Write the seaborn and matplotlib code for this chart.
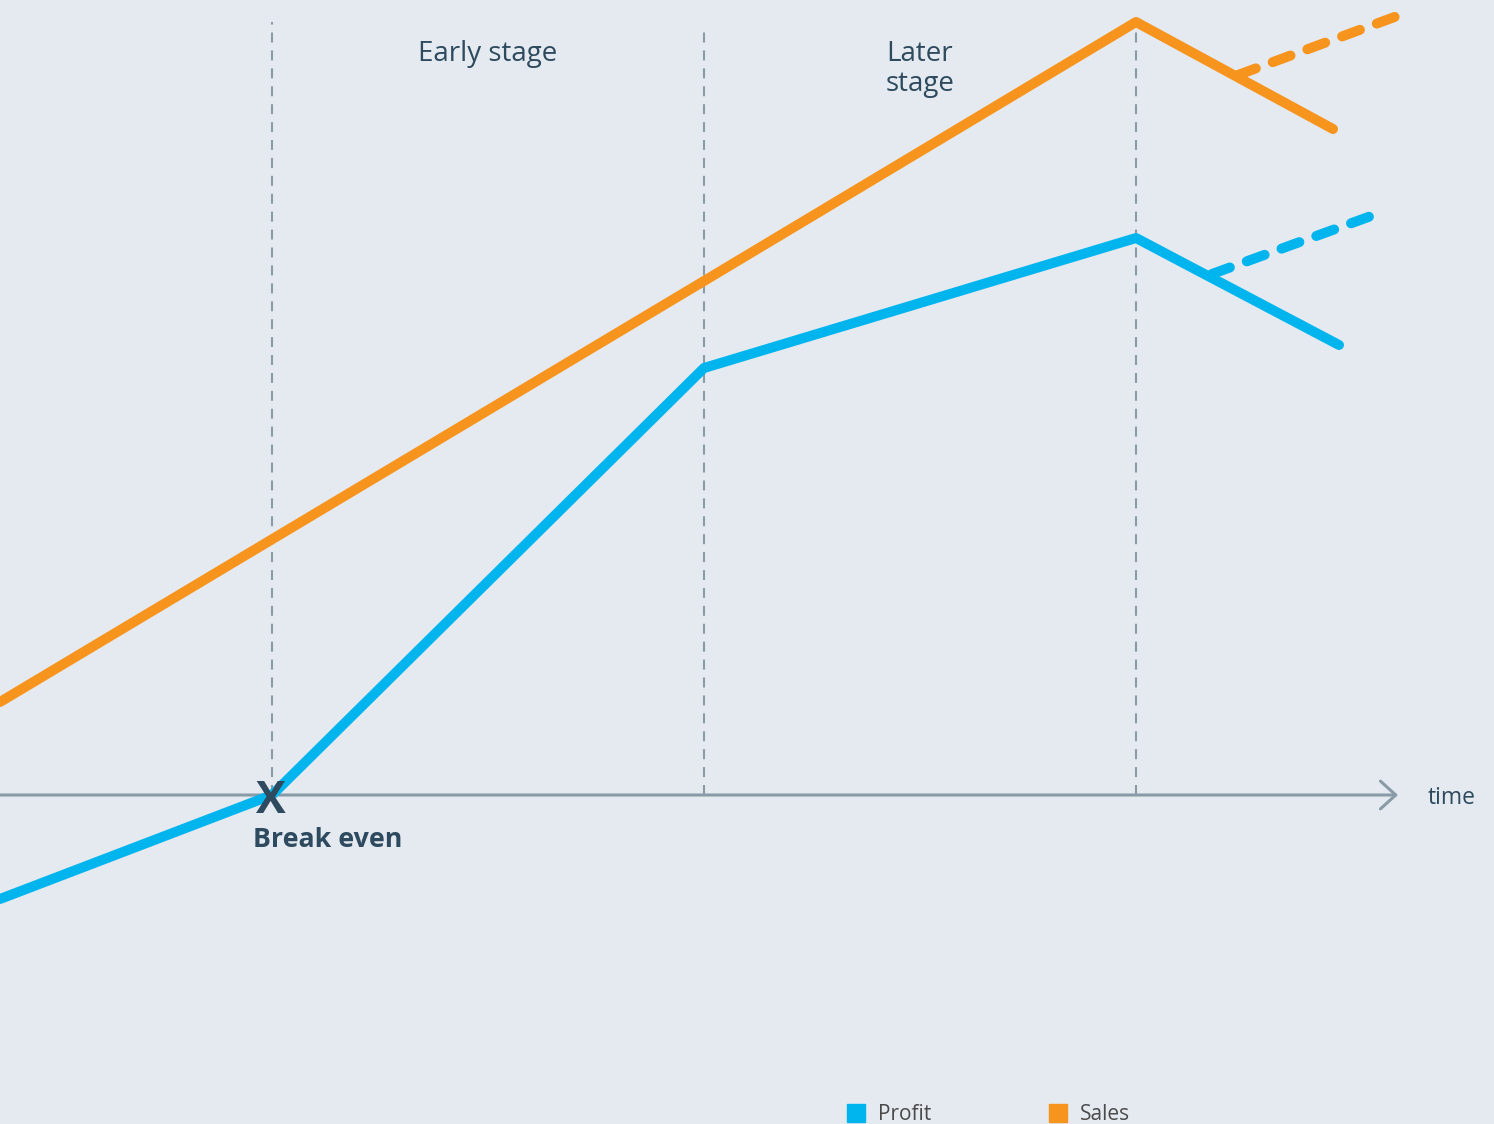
import matplotlib
matplotlib.use("Agg")
import matplotlib.pyplot as plt
from matplotlib.lines import Line2D
import seaborn as sns
import pandas as pd

# ---- data (time units, value units; 0 = break-even level) ----
sales_x = [0.0, 7.04, 11.36, 13.33]
sales_y = [0.93, 5.14, 7.73, 6.66]
profit_x = [0.0, 2.72, 7.04, 11.36, 13.39]
profit_y = [-1.04, 0.0, 4.27, 5.57, 4.50]
sales_proj_x = [12.38, 14.08]
sales_proj_y = [7.20, 7.83]
profit_proj_x = [12.12, 13.82]
profit_proj_y = [5.21, 5.83]
stage_x = [2.72, 7.04, 11.36]
stage_top = [7.73, 7.67, 7.73]
break_even = (2.71, 0.0)
legend_labels = ["Profit", "Sales"]

BG = "#E5EAF1"
PROFIT = "#00B5EE"
SALES = "#F7941D"
GRID = "#8A9BA8"
TXT = "#2E4A5E"

sns.set_theme(style="white")
plt.rcParams["font.family"] = ["Open Sans", "DejaVu Sans"]

fig = plt.figure(figsize=(14.94, 11.24), dpi=100, facecolor=BG)
ax = fig.add_axes([0, 0, 1, 1])
ax.set_facecolor(BG)

# stage separators
for x, top in zip(stage_x, stage_top):
    ax.plot([x, x], [0, top], color=GRID, lw=1.5, dashes=(4.8, 3.8), zorder=1)

# horizontal time axis with arrow
ax.annotate("", xy=(13.98, 0), xytext=(0, 0),
            arrowprops=dict(arrowstyle="->,head_length=0.55,head_width=0.5",
                            color=GRID, lw=2.2, mutation_scale=20,
                            shrinkA=0, shrinkB=0),
            zorder=2)
ax.text(14.28, -0.03, "time", fontsize=16.5, color=TXT, va="center", ha="left")

lw = 7.2
sales_df = pd.DataFrame({"t": sales_x, "v": sales_y})
profit_df = pd.DataFrame({"t": profit_x, "v": profit_y})
sns.lineplot(data=sales_df, x="t", y="v", ax=ax, color=SALES, lw=lw,
             sort=False, estimator=None, solid_capstyle="round", zorder=3)
sns.lineplot(data=profit_df, x="t", y="v", ax=ax, color=PROFIT, lw=lw,
             sort=False, estimator=None, solid_capstyle="round", zorder=4)
sns.lineplot(x=sales_proj_x, y=sales_proj_y, ax=ax, color=SALES, lw=lw,
             sort=False, estimator=None, dashes=False,
             linestyle=(0, (1.9, 1.8)), dash_capstyle="round", zorder=3)
sns.lineplot(x=profit_proj_x, y=profit_proj_y, ax=ax, color=PROFIT, lw=lw,
             sort=False, estimator=None, dashes=False,
             linestyle=(0, (1.9, 1.8)), dash_capstyle="round", zorder=4)
ax.set_xlim(0, 14.94)
ax.set_ylim(-3.29, 7.95)
ax.axis("off")

# break-even marker and labels
ax.text(break_even[0], break_even[1] - 0.01, "X", fontsize=32, fontweight="bold",
        color=TXT, ha="center", va="center_baseline", zorder=5)
ax.text(2.53, -0.45, "Break even", fontsize=19.3, fontweight="bold",
        color=TXT, ha="left", va="center")
ax.text(4.88, 7.41, "Early stage", fontsize=20, color=TXT, ha="center", va="center")
ax.text(9.20, 7.26, "Later\nstage", fontsize=20, color=TXT, ha="center",
        va="center", linespacing=1.1)

handles = [Line2D([], [], marker="s", linestyle="none", markersize=13.5,
                  color=c) for c in (PROFIT, SALES)]
leg = fig.legend(handles, legend_labels, loc="center",
                 bbox_to_anchor=(0.661, 0.0085), ncol=2, frameon=False,
                 fontsize=15, handlelength=1.0, handletextpad=0.55,
                 columnspacing=5.6, borderpad=0)
for t in leg.get_texts():
    t.set_color("#4A4A4A")

fig.savefig("out.png", dpi=100, facecolor=BG)
